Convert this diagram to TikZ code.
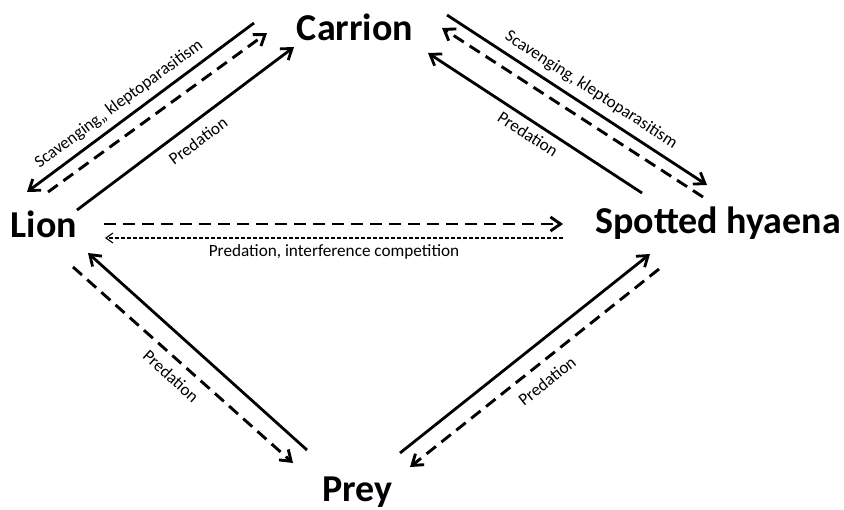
\documentclass[tikz,border=0pt]{standalone}
\usepackage{fontspec}
\setmainfont{Carlito}
\usetikzlibrary{arrows.meta}
\tikzset{
  species/.style={font=\fontsize{19}{22}\selectfont\bfseries, anchor=base, inner sep=0pt},
  rel/.style={font=\fontsize{8.6}{10}\selectfont, inner sep=0pt},
  link/.style={line width=1.4pt, -{Straight Barb[length=5pt,width=7pt]}},
  dlink/.style={link, line width=1.45pt, dash pattern=on 6pt off 3.5pt},
  tlink/.style={line width=0.55pt, dash pattern=on 2pt off 1pt, -{Straight Barb[length=3.5pt,width=5pt]}}
}
\begin{document}
\begin{tikzpicture}[x=0.5pt,y=-0.5pt]
                \useasboundingbox (0,0) rectangle (844,509);
                \node [species] (carrion) at (355,40) {Carrion};
                \node [species] (lion) at (44,237) {Lion};
                \node [species] (hyaena) at (718,233) {Spotted hyaena};
                \node [species] (prey) at (357.5,501) {Prey};
                \coordinate (lcA) at (254,23);  \coordinate (lcB) at (27,192);
                \coordinate (lcC) at (48,192);  \coordinate (lcD) at (267,33);
                \coordinate (lcE) at (77,210);  \coordinate (lcF) at (294,47);
                \coordinate (chA) at (447,15);  \coordinate (chB) at (707,185);
                \coordinate (chC) at (703,197); \coordinate (chD) at (442,28);
                \coordinate (chE) at (642,193); \coordinate (chF) at (428,53);
                \coordinate (lhA) at (104,224); \coordinate (lhB) at (563,224);
                \coordinate (lhC) at (563,238); \coordinate (lhD) at (105,238);
                \coordinate (lpA) at (307,450); \coordinate (lpB) at (88,253);
                \coordinate (lpC) at (73,267);  \coordinate (lpD) at (293,463);
                \coordinate (hpA) at (400,453); \coordinate (hpB) at (650,254);
                \coordinate (hpC) at (659,269); \coordinate (hpD) at (410,467);
                \draw [link] (lcA) -- (lcB);
                \draw [dlink] (lcC) -- (lcD);
                \draw [link] (lcE) -- (lcF);
                \draw [link] (chA) -- (chB);
                \draw [dlink] (chC) -- (chD);
                \draw [link] (chE) -- (chF);
                \draw [dlink] (lhA) -- (lhB);
                \draw [tlink] (lhC) -- (lhD);
                \draw [link] (lpA) -- (lpB);
                \draw [dlink] (lpC) -- (lpD);
                \draw [link] (hpA) -- (hpB);
                \draw [dlink] (hpC) -- (hpD);
                \node [rel, rotate=36.5] (scavl) at (119,104) {Scavenging,, kleptoparasitism};
                \node [rel, rotate=36.5] (predlc) at (198,141) {Predation};
                \node [rel, rotate=-33] (scavr) at (591,90) {Scavenging, kleptoparasitism};
                \node [rel, rotate=-33] (predhc) at (528,134) {Predation};
                \node [rel] (predlh) at (334,252) {Predation, interference competition};
                \node [rel, rotate=-42] (predlp) at (171,376) {Predation};
                \node [rel, rotate=38.5] (predhp) at (547,381) {Predation};
            \end{tikzpicture}
\end{document}
